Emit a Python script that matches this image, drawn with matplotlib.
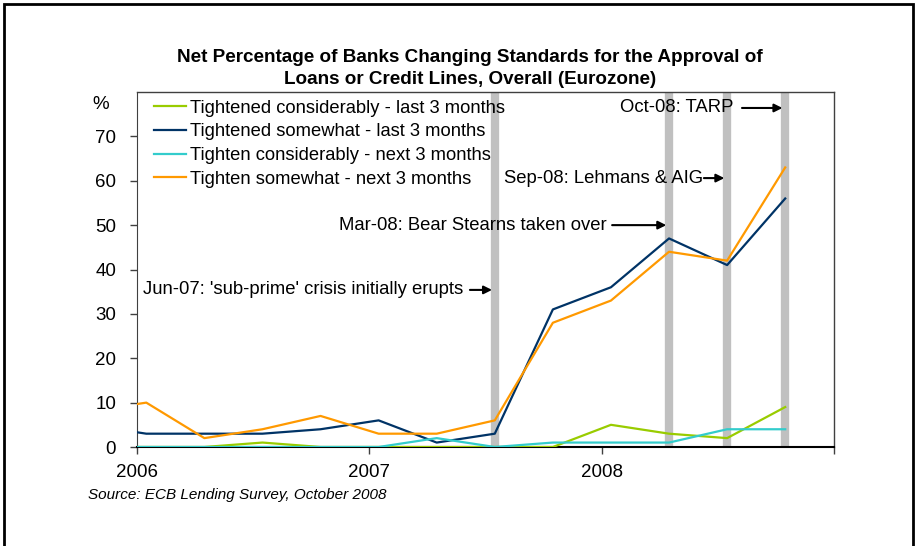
import matplotlib
matplotlib.use("Agg")
import matplotlib.pyplot as plt
from matplotlib.patches import Rectangle

plt.rcParams['font.family'] = ['Liberation Sans', 'DejaVu Sans']

# Data (survey dates as fractional years)
dates = [2005.79, 2006.04, 2006.29, 2006.54, 2006.79, 2007.04, 2007.29,
         2007.54, 2007.79, 2008.04, 2008.29, 2008.54, 2008.79]
tight_consid_last = [0, 0, 0, 1, 0, 0, 0, 0, 0, 5, 3, 2, 9]
tight_some_last = [5, 3, 3, 3, 4, 6, 1, 3, 31, 36, 47, 41, 56]
tight_consid_next = [0, 0, 0, 0, 0, 0, 2, 0, 1, 1, 1, 4, 4]
tight_some_next = [8, 10, 2, 4, 7, 3, 3, 6, 28, 33, 44, 42, 63]

labels = ["Tightened considerably - last 3 months",
          "Tightened somewhat - last 3 months",
          "Tighten considerably - next 3 months",
          "Tighten somewhat - next 3 months"]
colors = ["#99CC00", "#003366", "#33CCCC", "#FF9900"]

event_x = [2007.54, 2008.29, 2008.54, 2008.79]
event_labels = ["Jun-07: 'sub-prime' crisis initially erupts",
                "Mar-08: Bear Stearns taken over",
                "Sep-08: Lehmans & AIG",
                "Oct-08: TARP"]
# (text right end x, text y, arrow tail x)
event_text_pos = [(2007.403, 35.4, 2007.433),
                  (2008.023, 50.0, 2008.045),
                  (2008.436, 60.6, 2008.440),
                  (2008.565, 76.4, 2008.604)]

year_ticks = [2006, 2007, 2008, 2009]
year_labels = ["2006", "2007", "2008", ""]
y_ticks = [0, 10, 20, 30, 40, 50, 60, 70]

W, H = 917, 546
fig = plt.figure(figsize=(W / 100, H / 100), dpi=100)
ax = fig.add_axes([137 / W, (546 - 447) / H, (834 - 137) / W, (447 - 92) / H])

for ex in event_x:
    ax.axvline(ex, color="#C0C0C0", lw=6, zorder=1)

series = [tight_consid_last, tight_some_last, tight_consid_next, tight_some_next]
for vals, lab, col in zip(series, labels, colors):
    ax.plot(dates, vals, color=col, lw=1.6, label=lab, zorder=3)

ax.set_xlim(2006, 2009)
ax.set_ylim(0, 80)
ax.set_xticks(year_ticks)
ax.set_xticklabels(year_labels, fontsize=13.5)
ax.set_yticks(y_ticks)
ax.set_yticklabels([str(v) for v in y_ticks], fontsize=13.5)
ax.tick_params(axis='both', direction='out', length=5, width=1, color="#404040")
ax.tick_params(axis='x', pad=7)
ax.tick_params(axis='y', pad=10)
for s in ['top', 'right']:
    ax.spines[s].set_color("#404040")
    ax.spines[s].set_linewidth(1)
ax.spines['left'].set_color("#404040")
ax.spines['bottom'].set_color("black")
ax.spines['bottom'].set_linewidth(1.5)

ax.text(-0.04, 0.965, "%", transform=ax.transAxes, fontsize=13.5,
        ha='right', va='center')

for ex, lab, (tx, ty, ax0) in zip(event_x, event_labels, event_text_pos):
    ax.text(tx, ty, lab, fontsize=13.3, ha='right', va='center', zorder=4)
    ax.annotate("", xy=(ex - 0.012, ty), xytext=(ax0, ty),
                arrowprops=dict(arrowstyle='-|>', color='black', lw=1.5,
                                mutation_scale=12, shrinkA=0, shrinkB=0),
                zorder=4)

leg = ax.legend(loc='upper left', bbox_to_anchor=(0.008, 1.009), frameon=False,
                fontsize=13.2, handlelength=1.75, handletextpad=0.25,
                labelspacing=0.36, borderaxespad=0.2)

fig.text(470 / W, 1 - 58 / H,
         "Net Percentage of Banks Changing Standards for the Approval of",
         fontsize=13.6, fontweight='bold', ha='center', va='center')
fig.text(470 / W, 1 - 79 / H,
         "Loans or Credit Lines, Overall (Eurozone)",
         fontsize=13.6, fontweight='bold', ha='center', va='center')

fig.text(88 / W, 1 - 495 / H, "Source: ECB Lending Survey, October 2008",
         fontsize=11, style='italic', ha='left', va='center')

fig.patches.append(Rectangle((4 / W, -0.05), (913 - 4) / W, 1 - 4 / H + 0.05,
                             transform=fig.transFigure, fill=False,
                             edgecolor='black', lw=2))

fig.savefig("out.png", dpi=100)
